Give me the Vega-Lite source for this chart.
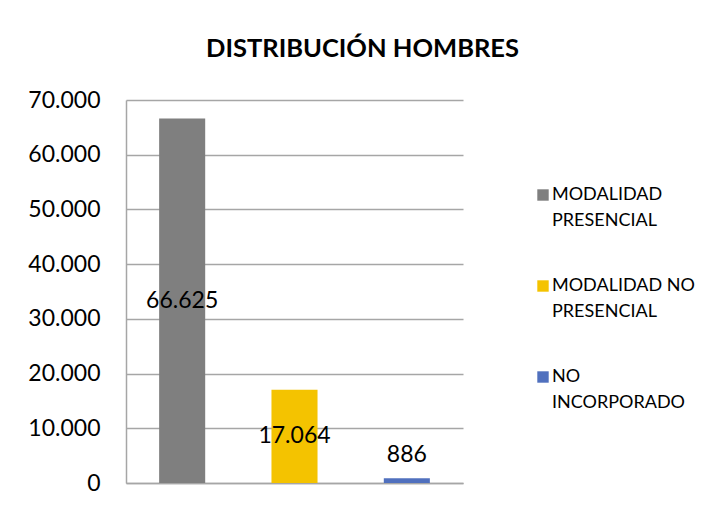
{
  "$schema": "https://vega.github.io/schema/vega-lite/v6.json",
  "width": 337,
  "height": 383,
  "autosize": "none",
  "padding": {"left": 126, "top": 100, "right": 246, "bottom": 23},
  "background": "white",
  "config": {
    "font": "Lato",
    "view": {"stroke": null}
  },
  "title": {
    "text": "DISTRIBUCIÓN HOMBRES",
    "font": "Lato",
    "fontSize": 25.5,
    "fontWeight": "bold",
    "color": "#000000",
    "anchor": "middle",
    "frame": "group",
    "dx": 68,
    "dy": 33,
    "baseline": "alphabetic",
    "offset": 40
  },
  "data": {
    "values": [
      {"categoria": "MODALIDAD PRESENCIAL", "valor": 66625},
      {"categoria": "MODALIDAD NO PRESENCIAL", "valor": 17064},
      {"categoria": "NO INCORPORADO", "valor": 886}
    ]
  },
  "encoding": {
    "x": {
      "field": "categoria",
      "type": "nominal",
      "sort": null,
      "scale": {"paddingInner": 0.59, "paddingOuter": 0.295},
      "axis": {
        "title": null,
        "labels": false,
        "ticks": false,
        "domainColor": "#a6a6a6",
        "domainWidth": 1.5
      }
    }
  },
  "layer": [
    {
      "mark": {"type": "bar"},
      "encoding": {
        "y": {
          "field": "valor",
          "type": "quantitative",
          "scale": {"domain": [0, 70000], "nice": false},
          "axis": {
            "title": null,
            "values": [0, 10000, 20000, 30000, 40000, 50000, 60000, 70000],
            "labelExpr": "replace(format(datum.value, ',d'), /,/g, '.')",
            "labelFont": "Lato",
            "labelFontSize": 23,
            "labelColor": "#000000",
            "labelPadding": 26,
            "ticks": false,
            "grid": true,
            "gridColor": "#a6a6a6",
            "gridWidth": 1.5,
            "domainColor": "#a6a6a6",
            "domainWidth": 1.5
          }
        },
        "color": {
          "field": "categoria",
          "type": "nominal",
          "sort": null,
          "scale": {
            "domain": ["MODALIDAD PRESENCIAL", "MODALIDAD NO PRESENCIAL", "NO INCORPORADO"],
            "range": ["#7f7f7f", "#f4c300", "#5070be"]
          },
          "legend": {
            "title": null,
            "orient": "none",
            "legendX": 408,
            "legendY": 86,
            "symbolType": "square",
            "symbolSize": 130,
            "symbolStrokeWidth": 0,
            "labelFont": "Lato",
            "labelFontSize": 18,
            "labelColor": "#000000",
            "labelBaseline": "top",
            "labelOffset": 0,
            "labelLimit": 200,
            "rowPadding": 47,
            "labelExpr": "datum.label == 'MODALIDAD PRESENCIAL' ? ['MODALIDAD', 'PRESENCIAL'] : datum.label == 'MODALIDAD NO PRESENCIAL' ? ['MODALIDAD NO', 'PRESENCIAL'] : ['NO', 'INCORPORADO']",
            "encode": {"labels": {"update": {"dy": {"value": -9}, "lineHeight": {"value": 26}}}}
          }
        }
      }
    },
    {
      "transform": [
        {"calculate": "max(datum.valor / 2, 5100)", "as": "pos"},
        {"calculate": "replace(format(datum.valor, ',d'), /,/g, '.')", "as": "etiqueta"}
      ],
      "mark": {"type": "text", "font": "Lato", "fontSize": 23, "color": "#000000", "baseline": "middle"},
      "encoding": {
        "y": {"field": "pos", "type": "quantitative"},
        "text": {"field": "etiqueta", "type": "nominal"}
      }
    }
  ]
}
